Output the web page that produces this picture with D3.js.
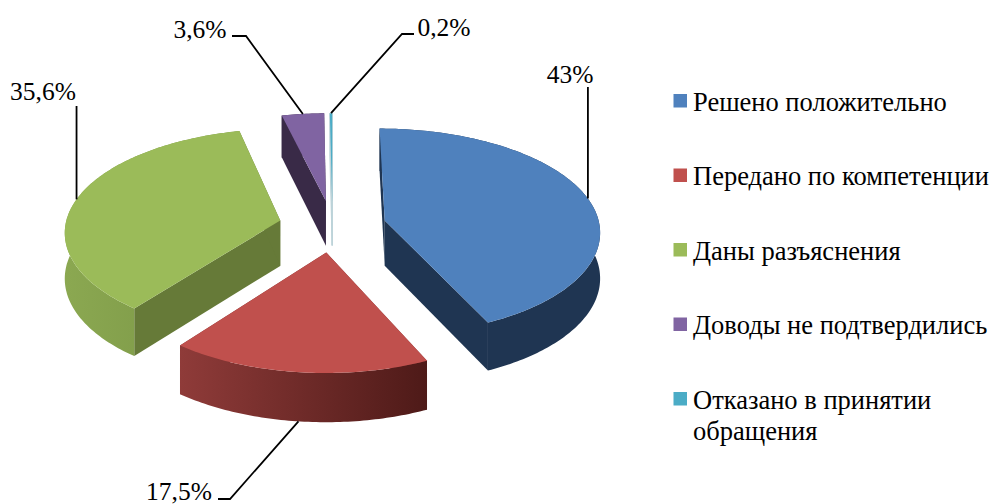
<!DOCTYPE html>
<html>
<head>
<meta charset="utf-8">
<script src="https://cdn.jsdelivr.net/npm/d3@7"></script>
<style>
html,body{margin:0;padding:0;background:#fff;}
svg{display:block;}
text{font-family:"Liberation Serif",serif;fill:#000;}
</style>
</head>
<body>
<svg id="c" width="994" height="504"></svg>
<script>
const categories = ["Решено положительно","Передано по компетенции","Даны разъяснения","Доводы не подтвердились","Отказано в принятии обращения"];
const values = [43, 17.5, 35.6, 3.6, 0.2];
const valueLabels = ["43%","17,5%","35,6%","3,6%","0,2%"];
const topColors = ["#4F81BD","#C0504D","#9BBB59","#8064A2","#4BACC6"];
const faceColors = ["#1F3552","#7A3230","#667A38","#392A47","#BCD3D9"];
const rimFrom = ["#1F3552","#8F3B39","#8BA851","#392A47","#BCD3D9"];
const rimTo = ["#1F3552","#4E1A18","#779344","#392A47","#BCD3D9"];
const drawOrder = [3,4,0,2,1];
const legendLines = [["Решено положительно"],["Передано по компетенции"],["Даны разъяснения"],["Доводы не подтвердились"],["Отказано в принятии","обращения"]];

const svg = d3.select("#c");
const cx = 332.5, cy = 226, explode = 0.25;
const sx = d3.scaleLinear().domain([0,1]).range([215,236]);     // horizontal radius by depth
const sy = d3.scaleLinear().domain([0,1]).range([104,115]);     // vertical radius by depth
const thick = d3.scaleLinear().domain([-1,1]).range([42.5,48.5]);

const arcs = d3.pie().sort(null).value(d=>d)(values);

function project(slice, angle, r){
  const mid = (slice.startAngle + slice.endAngle)/2;
  const gx = explode*Math.sin(mid) + r*Math.sin(angle);
  const gv = -explode*Math.cos(mid) - r*Math.cos(angle);
  return {x: cx + gx*sx(gv), y: cy + gv*sy(gv), d: thick(gv)};
}
const line = d3.line().x(p=>p.x).y(p=>p.y);
const lower = p => ({x:p.x, y:p.y+p.d});

const defs = svg.append("defs");
const gPie = svg.append("g");

drawOrder.forEach(i=>{
  const a = arcs[i];
  const n = Math.max(2, Math.ceil((a.endAngle-a.startAngle)*60));
  const rim = d3.range(n+1).map(k=>project(a, a.startAngle + (a.endAngle-a.startAngle)*k/n, 1));
  const apex = project(a, 0, 0);
  const grad = defs.append("linearGradient").attr("id","rim"+i)
    .attr("gradientUnits","userSpaceOnUse")
    .attr("x1", d3.min(rim,p=>p.x)).attr("x2", d3.max(rim,p=>p.x)+0.1).attr("y1",0).attr("y2",0);
  grad.append("stop").attr("offset",0).attr("stop-color",rimFrom[i]);
  grad.append("stop").attr("offset",1).attr("stop-color",rimTo[i]);
  const g = gPie.append("g");
  const thin = i===4;
  [rim[0], rim[n]].forEach(r=>{
    g.append("path")
      .attr("d", line([apex, lower(apex), lower(r), r])+"Z")
      .attr("fill", faceColors[i])
      .attr("stroke", thin? faceColors[i] : "none").attr("stroke-width", thin?1:0);
  });
  if(!thin){
    g.append("path")
      .attr("d", line(rim.concat(rim.map(lower).reverse()))+"Z")
      .attr("fill", `url(#rim${i})`);
  }
  g.append("path")
    .attr("d", line([apex].concat(rim))+"Z")
    .attr("fill", topColors[i]);
});

const leaders = [
  {bend:null, end:[587,87], tx:570, ty:83},
  {bend:[230,499], end:[218,499], tx:179, ty:499.5},
  {bend:null, end:[77,106], tx:43, ty:100},
  {bend:[246,36], end:[232,36], tx:200, ty:38},
  {bend:[402,34], end:[414,34], tx:444, ty:36}
];
const gLead = svg.append("g");
arcs.forEach((a,i)=>{
  const mid=(a.startAngle+a.endAngle)/2;
  let p = project(a, mid, 1);
  if(i===1) p = lower(p);
  const L = leaders[i];
  const pts = [p]; if(L.bend) pts.push({x:L.bend[0],y:L.bend[1]}); pts.push({x:i===0||i===2?p.x:L.end[0],y:L.end[1]});
  gLead.append("path").attr("d",line(pts)).attr("fill","none").attr("stroke","#000").attr("stroke-width",1.8);
  svg.append("text").attr("x",L.tx).attr("y",L.ty).attr("text-anchor","middle").attr("font-size",25.5).text(valueLabels[i]);
});

const legendY = d3.scaleLinear().domain([0,4]).range([94,392]);
categories.forEach((c,i)=>{
  const y = legendY(i);
  svg.append("rect").attr("x",673.5).attr("y",y).attr("width",13.5).attr("height",13.5).attr("fill",topColors[i]);
  const t = svg.append("text").attr("x",693).attr("y",y+16.5).attr("font-size",26.5);
  legendLines[i].forEach((s,k)=>t.append("tspan").attr("x",693).attr("dy",k?31:0).text(s));
});
</script>
</body>
</html>
